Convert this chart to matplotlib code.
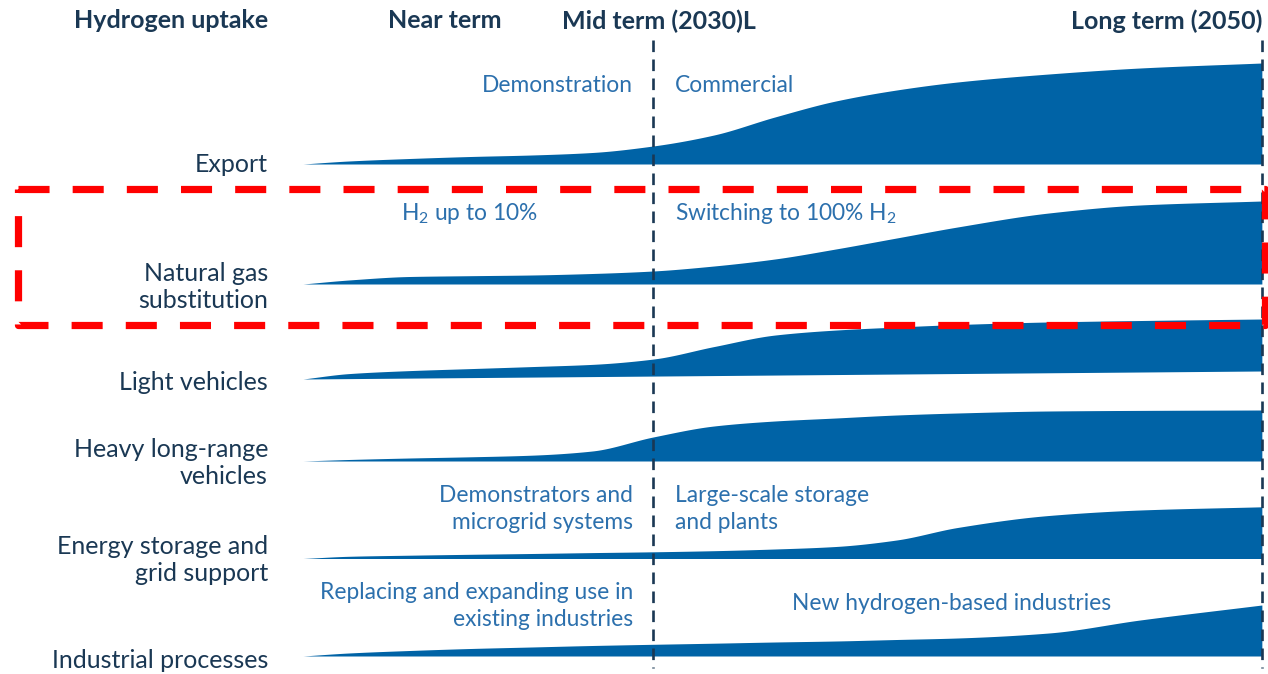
import numpy as np
import matplotlib
matplotlib.use("Agg")
import matplotlib.pyplot as plt

plt.rcParams['font.family'] = ['Lato', 'DejaVu Sans']

# ---- data (uptake index, per row) ----
years = [2018.5, 2020, 2022, 2024, 2026, 2028, 2030, 2032, 2034, 2036,
         2038, 2040, 2043, 2046, 2050]

export = [0, 3, 5.5, 7.5, 9, 11.5, 18, 29, 47, 63, 74, 82, 90, 96, 101]
gas_sub = [0, 4, 7.5, 8.3, 9, 10.5, 13, 18, 25, 35, 46, 57, 71, 79, 83]
light_veh = [0, 5, 7.5, 9, 10.5, 12.2, 17, 29, 40, 44.5, 47, 49, 50.8, 51.5, 52]
heavy_veh = [0, 1.5, 3, 4.2, 5.8, 10, 24, 35, 40, 43, 46, 48, 50, 50.6, 51]
storage = [0, 2.2, 3.3, 4.2, 5, 5.9, 6.7, 7.8, 9.5, 12, 18.5, 31, 43, 48.5, 51.7]
industry = [0, 3, 5.5, 7.5, 9, 10.5, 11.7, 12.8, 14, 15, 16.5, 18, 23, 36, 51]

row_labels = ["Export", "Natural gas\nsubstitution", "Light vehicles",
              "Heavy long-range\nvehicles", "Energy storage and\ngrid support",
              "Industrial processes"]
row_values = [export, gas_sub, light_veh, heavy_veh, storage, industry]

headers = ["Near term", "Mid term (2030)L", "Long term (2050)"]
mid_year = 2030
long_year = 2050

# ---- layout (pixels) ----
W, H = 1268, 674
x0_px, px_per_year = 303, 30.44
# baseline at left / right for each row
baselines = [(164, 164), (284, 284), (379, 371), (461, 461), (558.5, 558.5), (656, 656)]
label_y = [165, 287, 383, 463, 560, 661]

FILL = '#0063a6'
NAVY = '#1a3854'
LBLUE = '#2c70ad'


def px_x(px):
    return years[0] + (px - x0_px) / px_per_year


def pchip(x, y, xs):
    x = np.asarray(x, float)
    y = np.asarray(y, float)
    h = np.diff(x)
    d = np.diff(y) / h
    m = np.zeros_like(y)
    for k in range(1, len(x) - 1):
        if d[k - 1] * d[k] > 0:
            w1 = 2 * h[k] + h[k - 1]
            w2 = h[k] + 2 * h[k - 1]
            m[k] = (w1 + w2) / (w1 / d[k - 1] + w2 / d[k])
    m[0], m[-1] = d[0], d[-1]
    i = np.clip(np.searchsorted(x, xs) - 1, 0, len(h) - 1)
    t = (xs - x[i]) / h[i]
    return ((2 * t**3 - 3 * t**2 + 1) * y[i] + (t**3 - 2 * t**2 + t) * h[i] * m[i]
            + (-2 * t**3 + 3 * t**2) * y[i + 1] + (t**3 - t**2) * h[i] * m[i + 1])


fig = plt.figure(figsize=(W / 100, H / 100), dpi=100)
ax = fig.add_axes([0, 0, 1, 1])
ax.set_xlim(px_x(0), px_x(W))
ax.set_ylim(H, 0)
ax.axis('off')

xs = np.linspace(years[0], years[-1], 600)
for vals, (bl, br), lab, ly in zip(row_values, baselines, row_labels, label_y):
    base = bl + (br - bl) * (xs - years[0]) / (years[-1] - years[0])
    top = base - pchip(years, vals, xs)
    ax.fill_between(xs, base, top, color=FILL, lw=0, zorder=2)
    ax.text(px_x(268), ly, lab, ha='right', va='center',
            fontsize=18, color=NAVY, linespacing=1.26)

# dashed period lines
for yr in (mid_year, long_year):
    ax.plot([yr, yr], [40, 668], color=NAVY, lw=1.9, ls=(0, (4.4, 2.8)), zorder=3)

# headers
hd = dict(fontsize=18, fontweight='bold', color=NAVY, va='center')
ax.text(px_x(268), 21, "Hydrogen uptake", ha='right', **hd)
ax.text(px_x(445), 21, headers[0], ha='center', **hd)
ax.text(px_x(562), 21, headers[1], ha='left', **hd)
ax.text(px_x(1262), 21, headers[2], ha='right', **hd)

# phase annotations
left_x, right_x = px_x(633), px_x(675)
ph = dict(fontsize=16.4, color=LBLUE, linespacing=1.36, va='center')
ax.text(left_x, 86, "Demonstration", ha='right', **ph)
ax.text(right_x, 86, "Commercial", ha='left', **ph)
ax.text(px_x(470), 214, r"H$_\mathregular{2}$ up to 10%", ha='center', **ph)
ax.text(right_x, 214, r"Switching to 100% H$_\mathregular{2}$", ha='left', **ph)
ax.text(left_x, 509, "Demonstrators and\nmicrogrid systems", ha='right', **ph)
ax.text(right_x, 509, "Large-scale storage\nand plants", ha='left', **ph)
ax.text(left_x, 606, "Replacing and expanding use in\nexisting industries", ha='right', **ph)
ax.text(px_x(952), 604, "New hydrogen-based industries", ha='center', **ph)

# red highlight box around natural gas row
bx = [px_x(18), px_x(1265), px_x(1265), px_x(18), px_x(18)]
by = [189, 189, 325, 325, 189]
ax.plot(bx, by, color='#ff0000', lw=5.2, ls=(0, (4.3, 3.2)),
        dash_joinstyle='round', dash_capstyle='butt', zorder=4)

fig.savefig("out.png", dpi=100)
